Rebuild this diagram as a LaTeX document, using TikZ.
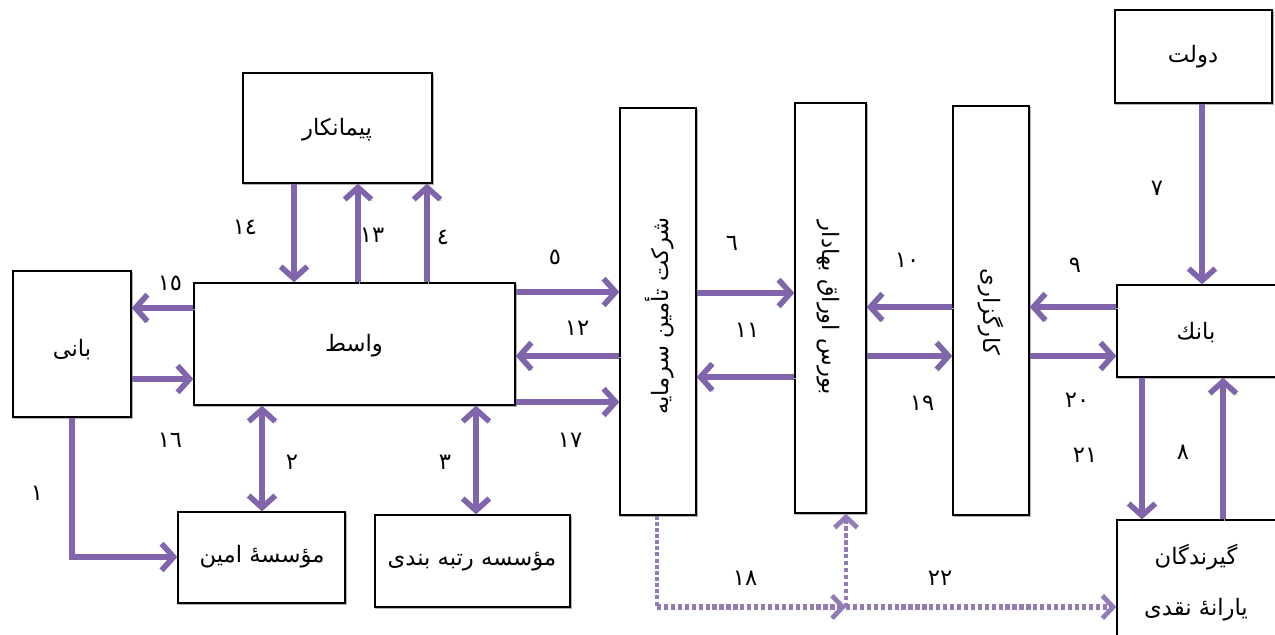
\documentclass[tikz,border=0pt]{standalone}
\usepackage{fontspec}
\usetikzlibrary{arrows.meta,fit}
\TeXXeTstate=1
\newfontfamily\fa[Script=Arabic]{DejaVu Sans}
\definecolor{arrowpurple}{RGB}{128,100,172}
\begin{document}
\begin{tikzpicture}[x=0.75pt,y=-0.75pt,
  box/.style={draw=black, line width=1pt, fill=white, inner sep=0pt,
    preaction={draw=black!30, line width=1.2pt, transform canvas={shift={(0.9pt,-1.1pt)}}}},
  txt/.style={font=\fa\fontsize{17}{20}\selectfont, inner sep=0pt},
  num/.style={font=\fa\fontsize{17}{20}\selectfont, inner sep=0pt},
  arr/.style={draw=arrowpurple, line width=4.2pt, -{Straight Barb[length=9pt,width=20pt]},
    preaction={draw=black!30, transform canvas={shift={(1pt,-1.2pt)}}}},
  darr/.style={arr, {Straight Barb[length=9pt,width=20pt]}-{Straight Barb[length=9pt,width=20pt]}},
  dashline/.style={draw=arrowpurple!85, line width=2.4pt, dash pattern=on 3pt off 1.6pt},
  dasharr/.style={draw=arrowpurple!85, line width=4.2pt, dash pattern=on 3.2pt off 2pt,
    -{Straight Barb[length=8pt,width=17pt,line width=3.6pt]}},
  dasharrthin/.style={dasharr, line width=3pt}
]
\useasboundingbox (0,0) rectangle (1275,635);

% boxes
\node[box, fit={(13,271) (131,417)}] (bani) {};
\node[box, fit={(194,283) (515,405)}] (wasit) {};
\node[box, fit={(243,73) (432,183)}] (peyman) {};
\node[box, fit={(178,512) (345,603)}] (amin) {};
\node[box, fit={(375,515) (570,607)}] (rating) {};
\node[box, fit={(620,108) (696,515)}] (sherkat) {};
\node[box, fit={(795,103) (866,513)}] (bourse) {};
\node[box, fit={(953,106) (1029,515)}] (kargozari) {};
\node[box, fit={(1115,10) (1272,103)}] (dolat) {};
\node[box, fit={(1117,285) (1290,377)}] (bank) {};
\node[box, fit={(1117,520) (1290,645)}] (girande) {};

% box texts
\node[txt] (baniT) at (72,350) {\beginR بانی\endR};
\node[txt] (wasitT) at (354,346) {\beginR واسط\endR};
\node[txt] (peymanT) at (337,130) {\beginR پیمانکار\endR};
\node[txt] (aminT) at (262,557) {\beginR مؤسسهٔ امین\endR};
\node[txt] (ratingT) at (472,562) {\beginR مؤسسه رتبه بندی\endR};
\node[txt, rotate=90] (sherkatT) at (660,316) {\beginR شرکت تأمین سرمایه\endR};
\node[txt, rotate=-90] (bourseT) at (828,308) {\beginR بورس اوراق بهادار\endR};
\node[txt, rotate=-90] (kargozariT) at (991,312) {\beginR کارگزاری\endR};
\node[txt] (dolatT) at (1193,57) {\beginR دولت\endR};
\node[txt] (bankT) at (1196,333) {\beginR بانك\endR};
\node[txt] (girandeT1) at (1196,557) {\beginR گیرندگان\endR};
\node[txt] (girandeT2) at (1196,610) {\beginR یارانهٔ نقدی\endR};

% helper coordinates
\coordinate (x1) at (72,0);
\coordinate (y1) at (0,557);
\coordinate (x2) at (262,0);
\coordinate (x3) at (476,0);
\coordinate (x4) at (427,0);
\coordinate (x13) at (358,0);
\coordinate (x14) at (294,0);
\coordinate (y5) at (0,292);
\coordinate (y12) at (0,356);
\coordinate (y17) at (0,402);
\coordinate (y15) at (0,308);
\coordinate (y16) at (0,379);
\coordinate (y6) at (0,293);
\coordinate (y11) at (0,377);
\coordinate (y10) at (0,307);
\coordinate (y19) at (0,356);
\coordinate (x7) at (1202,0);
\coordinate (x21) at (1142,0);
\coordinate (x8) at (1223,0);
\coordinate (c18) at (657,607);
\coordinate (j) at (846,607);

% connectors
\draw[arr] (bani.south -| x1) |- (amin.west |- y1);
\draw[darr] (wasit.south -| x2) -- (amin.north -| x2);
\draw[darr] (wasit.south -| x3) -- (rating.north -| x3);
\draw[arr] (wasit.north -| x4) -- (peyman.south -| x4);
\draw[arr] (wasit.north -| x13) -- (peyman.south -| x13);
\draw[arr] (peyman.south -| x14) -- (wasit.north -| x14);
\draw[arr] (wasit.east |- y5) -- (sherkat.west |- y5);
\draw[arr] (sherkat.west |- y12) -- (wasit.east |- y12);
\draw[arr] (wasit.east |- y17) -- (sherkat.west |- y17);
\draw[arr] (wasit.west |- y15) -- (bani.east |- y15);
\draw[arr] (bani.east |- y16) -- (wasit.west |- y16);
\draw[arr] (sherkat.east |- y6) -- (bourse.west |- y6);
\draw[arr] (bourse.west |- y11) -- (sherkat.east |- y11);
\draw[arr] (kargozari.west |- y10) -- (bourse.east |- y10);
\draw[arr] (bourse.east |- y19) -- (kargozari.west |- y19);
\draw[arr] (bank.west |- y10) -- (kargozari.east |- y10);
\draw[arr] (kargozari.east |- y19) -- (bank.west |- y19);
\draw[arr] (dolat.south -| x7) -- (bank.north -| x7);
\draw[arr] (bank.south -| x21) -- (girande.north -| x21);
\draw[arr] (girande.north -| x8) -- (bank.south -| x8);
\draw[dashline] (sherkat.south -| c18) -- (c18);
\draw[dasharr] (c18) -- (j);
\draw[dasharrthin] (j) -- (bourse.south -| j);
\draw[dasharr] (j) -- (girande.west |- j);

% labels
\node[num] (l15) at (170,283) {١٥};
\node[num] (l16) at (170,440) {١٦};
\node[num] (l1) at (37,493) {١};
\node[num] (l2) at (292,462) {٢};
\node[num] (l3) at (445,462) {٣};
\node[num] (l14) at (245,227) {١٤};
\node[num] (l13) at (372,235) {١٣};
\node[num] (l4) at (443,237) {٤};
\node[num] (l5) at (555,257) {٥};
\node[num] (l12) at (577,328) {١٢};
\node[num] (l17) at (570,440) {١٧};
\node[num] (l6) at (732,243) {٦};
\node[num] (l11) at (747,330) {١١};
\node[num] (l10) at (907,260) {١٠};
\node[num] (l19) at (922,403) {١٩};
\node[num] (l9) at (1075,265) {٩};
\node[num] (l20) at (1077,400) {٢٠};
\node[num] (l21) at (1085,455) {٢١};
\node[num] (l8) at (1183,452) {٨};
\node[num] (l7) at (1157,188) {٧};
\node[num] (l18) at (745,578) {١٨};
\node[num] (l22) at (940,578) {٢٢};
\end{tikzpicture}
\end{document}
